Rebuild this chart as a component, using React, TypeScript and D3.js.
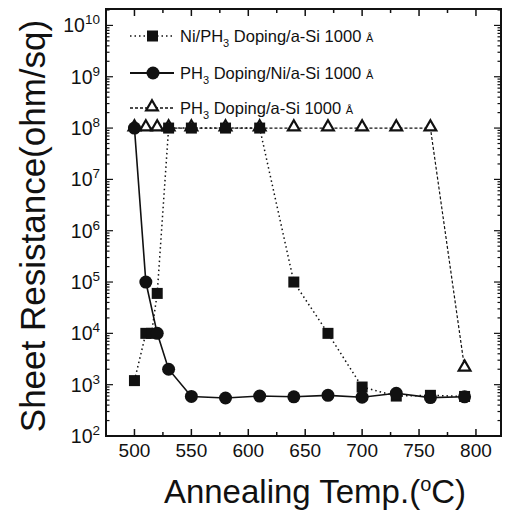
import React, { useEffect, useRef } from 'react';
import * as d3 from 'd3';

// annealing temperatures (°C)
const tempsSquare = [500, 510, 515, 520, 530, 550, 580, 610, 640, 670, 700, 730, 760, 790];
const niPh3 = [1.2e3, 1e4, 1e4, 6e4, 1e8, 1e8, 1e8, 1e8, 1e5, 1e4, 900, 600, 620, 590];

const tempsCircle = [500, 510, 520, 530, 550, 580, 610, 640, 670, 700, 730, 760, 790];
const ph3Ni = [1e8, 1e5, 1e4, 2e3, 590, 550, 600, 580, 620, 570, 680, 560, 580];

const tempsTri = [500, 510, 520, 530, 550, 580, 610, 640, 670, 700, 730, 760, 790];
const ph3Only = [1e8, 1e8, 1e8, 1e8, 1e8, 1e8, 1e8, 1e8, 1e8, 1e8, 1e8, 1e8, 2.1e3];

const xTicks = [500, 550, 600, 650, 700, 750, 800];
const yExps = [2, 3, 4, 5, 6, 7, 8, 9, 10];

const legendLabels = [
  ['Ni/PH', '3', ' Doping/a-Si 1000 '],
  ['PH', '3', ' Doping/Ni/a-Si 1000 '],
  ['PH', '3', ' Doping/a-Si 1000 '],
];

const W = 505;
const H = 519;
const FONT = 'Liberation Sans, Arial, sans-serif';

const App = () => {
  const svgRef = useRef<SVGSVGElement>(null);

  useEffect(() => {
    const svg = d3.select(svgRef.current);
    svg.selectAll('*').remove();

    const left = 106, right = 501, top = 9, bottom = 436;
    const x = d3.scaleLinear().domain([475, 822]).range([left, right]);
    const y = d3.scaleLog().domain([100, Math.pow(10, 10.32)]).range([bottom, top]);

    const ink = '#111';

    // frame
    svg.append('rect')
      .attr('x', left).attr('y', top)
      .attr('width', right - left).attr('height', bottom - top)
      .attr('fill', 'none').attr('stroke', ink).attr('stroke-width', 2);

    // x ticks (inward, bottom and top)
    const xMinor = d3.range(475, 822, 25);
    xMinor.forEach(v => {
      const major = v % 50 === 0;
      const len = major ? 7 : 4;
      svg.append('line').attr('x1', x(v)).attr('x2', x(v))
        .attr('y1', bottom).attr('y2', bottom - len).attr('stroke', ink).attr('stroke-width', 1.5);
      svg.append('line').attr('x1', x(v)).attr('x2', x(v))
        .attr('y1', top).attr('y2', top + len).attr('stroke', ink).attr('stroke-width', 1.5);
    });

    xTicks.forEach(v => {
      svg.append('text').attr('x', x(v)).attr('y', 457)
        .attr('text-anchor', 'middle').attr('font-size', 19).attr('font-family', FONT)
        .attr('fill', ink).text(v);
    });

    // y ticks (log, with minors)
    for (let e = 2; e <= 10; e++) {
      for (let m = 1; m <= 9; m++) {
        const v = m * Math.pow(10, e);
        if (v > y.domain()[1]) continue;
        const len = m === 1 ? 7 : 3.5;
        svg.append('line').attr('x1', left).attr('x2', left + len)
          .attr('y1', y(v)).attr('y2', y(v)).attr('stroke', ink).attr('stroke-width', 1.2);
        svg.append('line').attr('x1', right).attr('x2', right - len)
          .attr('y1', y(v)).attr('y2', y(v)).attr('stroke', ink).attr('stroke-width', 1.2);
      }
    }

    yExps.forEach(e => {
      const t = svg.append('text').attr('x', 100).attr('y', y(Math.pow(10, e)) + 7)
        .attr('text-anchor', 'end').attr('font-size', 19.5).attr('font-family', FONT).attr('fill', ink);
      t.append('tspan').text('10');
      t.append('tspan').attr('dy', -8).attr('font-size', 13.5).text(e);
    });

    // axis titles
    const xt = svg.append('text').attr('x', 315).attr('y', 503)
      .attr('text-anchor', 'middle').attr('font-size', 33).attr('font-family', FONT)
      .attr('fill', ink);
    xt.append('tspan').text('Annealing Temp.(');
    xt.append('tspan').attr('dy', -12).attr('font-size', 20).text('o');
    xt.append('tspan').attr('dy', 12).text('C)');

    svg.append('text')
      .attr('transform', `translate(45,${226}) rotate(-90)`)
      .attr('text-anchor', 'middle').attr('font-size', 35).attr('font-family', FONT)
      .attr('fill', ink).text('Sheet Resistance(ohm/sq)');

    const line = d3.line<[number, number]>().x(d => x(d[0])).y(d => y(d[1]));

    const sq = tempsSquare.map((t, i) => [t, niPh3[i]] as [number, number]);
    const ci = tempsCircle.map((t, i) => [t, ph3Ni[i]] as [number, number]);
    const tr = tempsTri.map((t, i) => [t, ph3Only[i]] as [number, number]);

    const triPath = d3.symbol(d3.symbolTriangle, 60);

    // triangles series (dashed)
    svg.append('path').attr('d', line(tr)).attr('fill', 'none').attr('stroke', ink)
      .attr('stroke-width', 1.2).attr('stroke-dasharray', '3,2');
    // squares series (dotted)
    svg.append('path').attr('d', line(sq)).attr('fill', 'none').attr('stroke', ink)
      .attr('stroke-width', 1.5).attr('stroke-dasharray', '1.5,3');
    // circles series (solid)
    svg.append('path').attr('d', line(ci)).attr('fill', 'none').attr('stroke', ink)
      .attr('stroke-width', 1.6);

    svg.selectAll('.tri').data(tr).enter().append('path')
      .attr('transform', d => `translate(${x(d[0])},${y(d[1]) - 1})`)
      .attr('d', triPath()).attr('fill', 'white').attr('stroke', ink).attr('stroke-width', 2.2);

    svg.selectAll('.sq').data(sq).enter().append('rect')
      .attr('x', d => x(d[0]) - 5.5).attr('y', d => y(d[1]) - 5.5)
      .attr('width', 11).attr('height', 11).attr('fill', ink);

    svg.selectAll('.ci').data(ci).enter().append('circle')
      .attr('cx', d => x(d[0])).attr('cy', d => y(d[1])).attr('r', 6.5).attr('fill', ink);

    // legend
    const rows = [36, 73, 108];
    rows.forEach((ry, i) => {
      const dash = i === 0 ? '1.5,3' : i === 1 ? null : '3,2';
      const l = svg.append('line').attr('x1', 130).attr('x2', 174).attr('y1', ry).attr('y2', ry)
        .attr('stroke', ink).attr('stroke-width', i === 1 ? 1.8 : 1.4);
      if (dash) l.attr('stroke-dasharray', dash);
      if (i === 0) {
        svg.append('rect').attr('x', 147).attr('y', ry - 5.5).attr('width', 11).attr('height', 11).attr('fill', ink);
      } else if (i === 1) {
        svg.append('circle').attr('cx', 153).attr('cy', ry).attr('r', 6.5).attr('fill', ink);
      } else {
        svg.append('path').attr('transform', `translate(152,${ry - 1})`).attr('d', triPath())
          .attr('fill', 'white').attr('stroke', ink).attr('stroke-width', 2.2);
      }
      const lab = legendLabels[i];
      const t = svg.append('text').attr('x', 180).attr('y', ry + 6)
        .attr('font-size', 16.5).attr('font-family', FONT).attr('fill', ink);
      t.append('tspan').text(lab[0]);
      t.append('tspan').attr('dy', 5).attr('font-size', 11).text(lab[1]);
      t.append('tspan').attr('dy', -5).text(lab[2]);
      t.append('tspan').attr('font-size', 11).text('Å');
    });
  }, []);

  return (
    <svg ref={svgRef} width={W} height={H}
      style={{ position: 'absolute', left: 0, top: 0, background: 'white' }} />
  );
};

export default App;
